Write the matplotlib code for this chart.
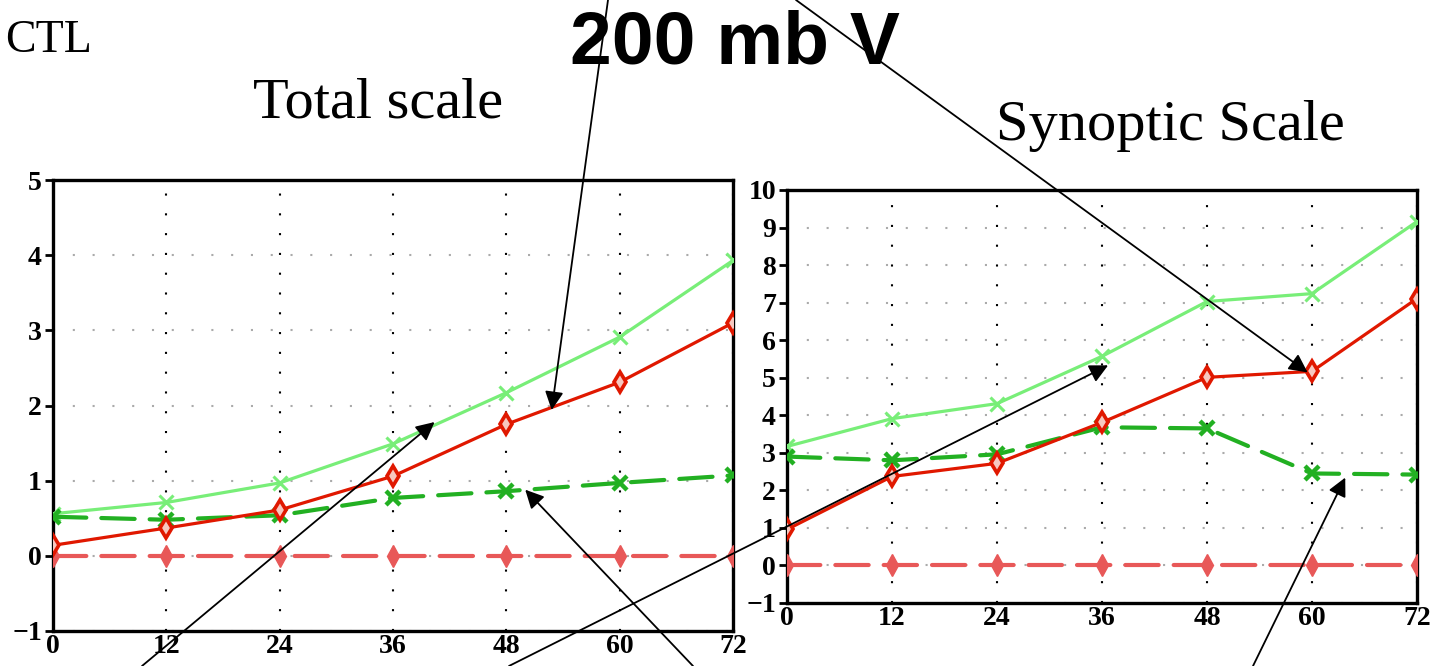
import matplotlib.pyplot as plt
import numpy as np

hours = [0, 12, 24, 36, 48, 60, 72]

# Total scale (left panel)
tot_lgreen = [0.56, 0.71, 0.97, 1.49, 2.17, 2.91, 3.93]
tot_red = [0.14, 0.37, 0.61, 1.06, 1.75, 2.31, 3.10]
tot_green = [0.52, 0.48, 0.54, 0.77, 0.86, 0.97, 1.07]
tot_pink = [0, 0, 0, 0, 0, 0, 0]

# Synoptic scale (right panel)
syn_lgreen = [3.17, 3.91, 4.31, 5.57, 7.03, 7.24, 9.16]
syn_red = [0.96, 2.37, 2.72, 3.81, 5.01, 5.17, 7.11]
syn_green = [2.90, 2.80, 2.96, 3.68, 3.65, 2.45, 2.42]
syn_pink = [0, 0, 0, 0, 0, 0, 0]

W, H = 1441, 666
fig = plt.figure(figsize=(W / 100, H / 100), dpi=100)

tickfont = dict(family='Liberation Serif', weight='bold', size=20)


def panel(rect, lg, rd, gr, pk, ymax):
    ax = fig.add_axes(rect)
    ax.plot(hours, pk, color='#e85858', lw=3, ls=(0, (8, 3.6)), dash_capstyle='round',
            marker='d', ms=11, mfc='#e85858', mec='#e85858', zorder=3)
    ax.plot(hours, lg, color='#78ee78', lw=2.3, marker='x', ms=10, mew=2.2, zorder=4)
    ax.plot(hours, gr, color='#22b022', lw=3, ls=(0, (8, 3.6)), dash_capstyle='round',
            marker='x', ms=10, mew=3.2, zorder=4)
    ax.plot(hours, rd, color='#e01800', lw=2.3, marker='d', ms=10.5, mfc='#f7c8c0',
            mec='#e01800', mew=2.6, zorder=5)
    ax.set_xlim(0, 72)
    ax.set_ylim(-1, ymax)
    ax.set_xticks(hours)
    ax.set_yticks(range(-1, ymax + 1))
    ax.set_xticklabels([str(h) for h in hours], fontdict=tickfont)
    ax.set_yticklabels(['\u22121' if v == -1 else str(v) for v in range(-1, ymax + 1)],
                       fontdict=tickfont)
    ax.tick_params(axis='y', length=6, width=2, pad=2)
    ax.tick_params(axis='x', length=0, pad=2)
    ax.xaxis.grid(True, color='black', lw=1.5, ls=(0, (1, 8.5)))
    ax.yaxis.grid(True, color='#aaaaaa', lw=1.5, ls=(0, (1, 8.5)))
    ax.set_axisbelow(True)
    for s in ax.spines.values():
        s.set_linewidth(2.4)
    return ax


axL = panel([53 / W, 35 / H, 680 / W, 451 / H], tot_lgreen, tot_red, tot_green, tot_pink, 5)
axR = panel([787 / W, 63 / H, 630 / W, 413 / H], syn_lgreen, syn_red, syn_green, syn_pink, 10)

fig.text(5 / W, 1 - 52 / H, 'CTL', family='Liberation Serif', size=33, ha='left', va='baseline')
fig.text(378 / W, 1 - 118 / H, 'Total scale', family='Liberation Serif', size=42,
         ha='center', va='baseline')
fig.text(1170 / W, 1 - 140 / H, 'Synoptic Scale', family='Liberation Serif', size=42,
         ha='center', va='baseline')
fig.text(735 / W, 1 - 63 / H, '200 mb V', family='Liberation Sans', weight='bold', size=54,
         ha='center', va='baseline')

arrow = dict(arrowstyle='-|>', mutation_scale=28, lw=1.3, color='black',
             shrinkA=0, shrinkB=0)
# (axes, tip in data coords, tail in figure pixels)
arrows = [
    (axL, (52.8, 1.94), (608, 666)),
    (axR, (59.5, 5.14), (796, 666)),
    (axL, (40.4, 1.78), (142, 0)),
    (axR, (36.7, 5.33), (509, 0)),
    (axL, (50.0, 0.88), (693, 0)),
    (axR, (63.8, 2.34), (1253, 0)),
]
for ax, tip, tail in arrows:
    ax.annotate('', xy=tip, xycoords='data', xytext=tail, textcoords='figure pixels',
                arrowprops=arrow, annotation_clip=False, zorder=10)

fig.savefig('out.png', dpi=100)
